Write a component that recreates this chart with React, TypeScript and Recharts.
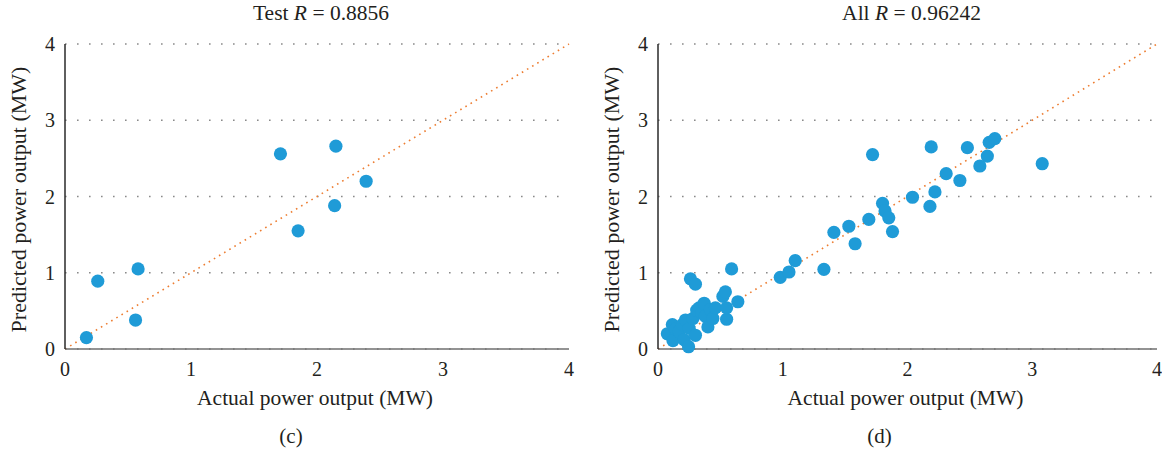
import React from 'react';
import { ScatterChart, Scatter, XAxis, YAxis, CartesianGrid, ReferenceLine } from 'recharts';

// values (MW)
const testActual = [0.17, 0.26, 0.56, 0.58, 1.71, 1.85, 2.15, 2.14, 2.39];
const testPredicted = [0.15, 0.89, 0.38, 1.05, 2.56, 1.55, 2.66, 1.88, 2.2];

const allActual = [
  0.075, 0.115, 0.12, 0.14, 0.17, 0.195, 0.21, 0.22, 0.245, 0.25, 0.26, 0.28, 0.3, 0.3,
  0.31, 0.33, 0.35, 0.37, 0.38, 0.4, 0.42, 0.44, 0.46, 0.52, 0.54, 0.55, 0.55, 0.59, 0.64,
  0.98, 1.05, 1.1, 1.33, 1.41, 1.53, 1.58, 1.69, 1.72, 1.8, 1.82, 1.85, 1.88, 2.04, 2.18,
  2.19, 2.22, 2.31, 2.42, 2.48, 2.58, 2.64, 2.655, 2.7, 3.08,
];
const allPredicted = [
  0.2, 0.32, 0.11, 0.26, 0.23, 0.32, 0.12, 0.38, 0.03, 0.27, 0.92, 0.4, 0.85, 0.18,
  0.51, 0.54, 0.47, 0.6, 0.43, 0.29, 0.52, 0.4, 0.54, 0.69, 0.75, 0.39, 0.54, 1.05, 0.62,
  0.94, 1.01, 1.16, 1.045, 1.53, 1.61, 1.38, 1.7, 2.55, 1.91, 1.81, 1.72, 1.54, 1.99, 1.87,
  2.65, 2.06, 2.3, 2.21, 2.64, 2.4, 2.53, 2.71, 2.76, 2.43,
];

const axisTicks = [0, 1, 2, 3, 4];
const xTitle = 'Actual power output (MW)';
const yTitle = 'Predicted power output (MW)';

const FONT = '"Liberation Serif", "DejaVu Serif", serif';
const INK = '#231f20';
const BLUE = '#1f9bd7';

const toPoints = (xs: number[], ys: number[]) => xs.map((x, i) => ({ x, y: ys[i] }));

const Dot = (p: any) => <circle cx={p.cx} cy={p.cy} r={6.6} fill={BLUE} />;

interface PanelProps {
  left: number;
  yAxisWidth: number;
  marginRight: number;
  name: string;
  r: string;
  tag: string;
  tagShift: number;
  xs: number[];
  ys: number[];
}

function Panel({ left, yAxisWidth, marginRight, name, r, tag, tagShift, xs, ys }: PanelProps) {
  const W = 581;
  const H = 453;
  const plotLeft = yAxisWidth;
  const plotRight = W - marginRight;
  const centre = (plotLeft + plotRight) / 2;
  const data = toPoints(xs, ys);

  return (
    <div style={{ position: 'absolute', left, top: 0, width: W, height: H, fontFamily: FONT, color: INK }}>
      <div style={{ position: 'absolute', top: 1, left: centre + 4 - 150, width: 300, textAlign: 'center', fontSize: 21.5 }}>
        {name} <i>R</i> = {r}
      </div>
      <div style={{ position: 'absolute', top: 424, left: centre + tagShift - 50, width: 100, textAlign: 'center', fontSize: 21 }}>
        {tag}
      </div>
      <ScatterChart width={W} height={H} margin={{ top: 44, right: marginRight, bottom: 74, left: 0 }}>
        <CartesianGrid vertical={false} stroke="#8a8a8a" strokeWidth={1.6} strokeDasharray="1.6 10.4" />
        <XAxis
          type="number"
          dataKey="x"
          domain={[0, 4]}
          ticks={axisTicks}
          height={30}
          tickLine={false}
          tickMargin={7}
          axisLine={{ stroke: '#6f6f6f', strokeWidth: 1.5 }}
          tick={{ fill: INK, fontSize: 20, fontFamily: FONT }}
          label={{
            content: (p: any) => (
              <text x={p.viewBox.x + p.viewBox.width / 2 - 2} y={405} textAnchor="middle" fill={INK} fontSize={21.5} fontFamily={FONT}>
                {xTitle}
              </text>
            ),
          }}
        />
        <YAxis
          type="number"
          dataKey="y"
          domain={[0, 4]}
          ticks={axisTicks}
          width={yAxisWidth}
          tickLine={false}
          tickMargin={4}
          axisLine={{ stroke: '#2a2a2a', strokeWidth: 1.5 }}
          tick={{ fill: INK, fontSize: 20, fontFamily: FONT }}
          label={{
            content: (p: any) => {
              const cy = p.viewBox.y + p.viewBox.height / 2 + 3;
              const cx = yAxisWidth - 47;
              return (
                <text x={cx} y={cy} transform={`rotate(-90 ${cx} ${cy})`} textAnchor="middle" dominantBaseline="central" fill={INK} fontSize={22} fontFamily={FONT}>
                  {yTitle}
                </text>
              );
            },
          }}
        />
        <ReferenceLine
          segment={[{ x: 0, y: 0 }, { x: 4, y: 4 }]}
          stroke="#ed7d31"
          strokeWidth={1.6}
          strokeDasharray="1.6 4.4"
        />
        <Scatter data={data} fill={BLUE} shape={Dot} isAnimationActive={false} />
      </ScatterChart>
    </div>
  );
}

export default function App() {
  return (
    <div style={{ position: 'absolute', left: 0, top: 0, width: 1162, height: 453, background: '#fff', overflow: 'hidden' }}>
      <Panel left={0} yAxisWidth={65} marginRight={12} name="Test" r="0.8856" tag="(c)" tagShift={-26} xs={testActual} ys={testPredicted} />
      <Panel left={581} yAxisWidth={77} marginRight={5} name="All" r="0.96242" tag="(d)" tagShift={-28} xs={allActual} ys={allPredicted} />
    </div>
  );
}
